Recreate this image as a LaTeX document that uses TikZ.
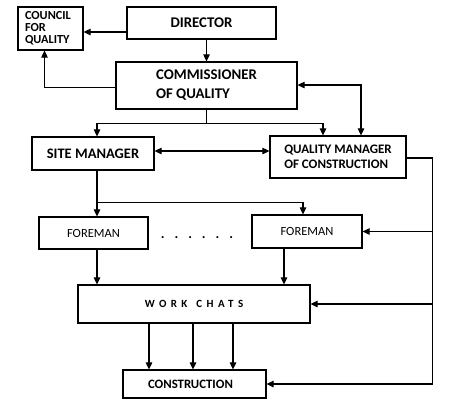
\documentclass[tikz,border=0pt]{standalone}
\usepackage{fontspec}
\setmainfont{Carlito}
\newfontfamily\spacedfont[LetterSpace=40]{Carlito}
\usetikzlibrary{arrows.meta,calc,positioning}

\begin{document}
\begin{tikzpicture}[
    >={Triangle[length=7pt,width=6.5pt]},
    font=\bfseries,
    x=1pt,
    y=-1pt,
    box/.style={draw,line width=1.2pt,inner sep=0pt},
    arr/.style={->,line width=1.1pt},
    arr2/.style={<->,line width=1.1pt}
]

\useasboundingbox (0,0) rectangle (449,408);

% Bloki
\node[box,minimum width=65,minimum height=43,
      inner xsep=7pt,text width=51,align=left,
      font=\bfseries\fontsize{12.3}{12.2}\selectfont]
    (council) at (50.5,28.5)
    {COUNCIL\\FOR\\QUALITY};

\node[box,minimum width=149,minimum height=32,
      font=\bfseries\fontsize{14.8}{16}\selectfont]
    (director) at (201.5,23)
    {DIRECTOR};

\node[box,minimum width=181,minimum height=47,align=left,
      font=\bfseries\fontsize{14.8}{19}\selectfont]
    (comm) at (206.5,85.5)
    {COMMISSIONER\\OF QUALITY};

\node[box,minimum width=122,minimum height=33,
      font=\bfseries\fontsize{14.5}{15}\selectfont]
    (site) at (93,153.5)
    {SITE MANAGER};

\node[box,minimum width=136,minimum height=42,align=left,
      font=\bfseries\fontsize{13}{15}\selectfont]
    (qmc) at (338,157)
    {QUALITY MANAGER\\OF CONSTRUCTION};

\node[box,minimum width=109,minimum height=32,
      font=\fontsize{12.5}{14}\selectfont]
    (fore1) at (93.5,233)
    {FOREMAN};

\node[box,minimum width=110,minimum height=33,
      font=\fontsize{12.5}{14}\selectfont]
    (fore2) at (307,231.5)
    {FOREMAN};

\node[font=\bfseries\fontsize{14}{16}\selectfont]
    (dots) at (197,238)
    {.\hspace{10pt}.\hspace{10pt}.\hspace{10pt}.\hspace{10pt}.\hspace{10pt}.};

\node[box,minimum width=232,minimum height=38,
      font=\spacedfont\bfseries\fontsize{11}{13}\selectfont]
    (chats) at (194,304)
    {WORK\hspace{9pt}CHATS};

\node[box,minimum width=143,minimum height=28,
      font=\bfseries\fontsize{12.8}{14}\selectfont]
    (cons) at (194.5,384)
    {\hspace*{-8pt}CONSTRUCTION};

% Gorna czesc
\draw[arr]
    ([yshift=-9pt]director.west)
    --
    ([yshift=-9pt]director.west -| council.east);

\draw[arr]
    (director.south -| comm.north)
    --
    (comm.north);

\draw[arr]
    ([yshift=-2pt]comm.west)
    -|
    ([xshift=-6pt]council.south);

\draw[arr2]
    ([yshift=0.5pt]comm.east)
    -|
    ([xshift=23pt]qmc.north);

% Rozgalezienie pod komisarzem
\draw[line width=1.1pt]
    (comm.south) -- ++(0,14) coordinate (csplit);

\draw[arr]
    (csplit) -| ([xshift=4pt]site.north);

\draw[arr]
    (csplit) -| ([xshift=-15pt]qmc.north);

\draw[arr2]
    ([yshift=2.5pt]site.east)
    --
    ([yshift=2.5pt]site.east -| qmc.west);

% Linia po prawej stronie
\draw[line width=1.1pt]
    ([yshift=-1pt]qmc.east) -- ++(26,0) coordinate (qright);

\draw[arr]
    (qright) |- (cons.east);

\draw[arr]
    (qright |- fore2.east) -- (fore2.east);

\draw[arr]
    (qright |- chats.east) -- (chats.east);

% Brygadzisci
\draw[arr]
    ([xshift=4pt]site.south)
    --
    ([xshift=4pt]site.south |- fore1.north);

\path
    ([xshift=4pt]site.south) ++(0,32) coordinate (fsplit);

\draw[arr]
    (fsplit) -| ([xshift=-4pt]fore2.north);

\draw[arr]
    ([xshift=3.5pt]fore1.south)
    --
    ([xshift=3.5pt]fore1.south |- chats.north);

\draw[arr]
    ([xshift=-23pt]fore2.south)
    --
    ([xshift=-23pt]fore2.south |- chats.north);

% Do budowy
\foreach \dx in {-45.5,-1.5,38.5}
    \draw[arr]
        ([xshift=\dx pt]cons.north |- chats.south)
        --
        ([xshift=\dx pt]cons.north);

\end{tikzpicture}
\end{document}
